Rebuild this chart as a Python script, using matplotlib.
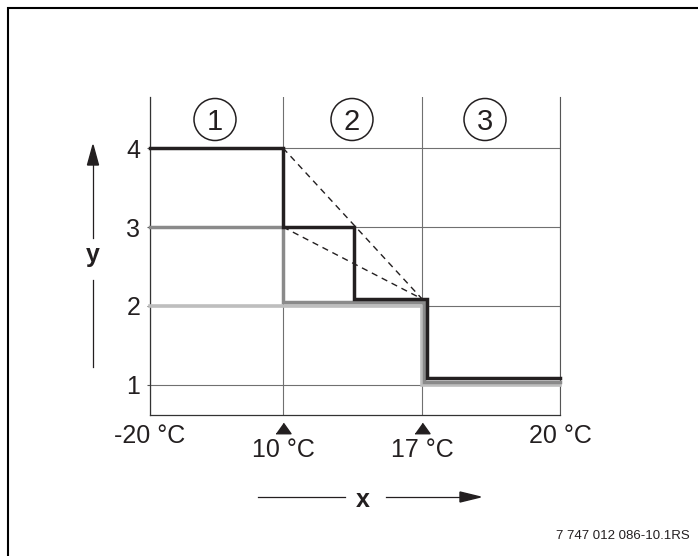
import numpy as np
import matplotlib
matplotlib.use('Agg')
import matplotlib.pyplot as plt
from matplotlib.transforms import blended_transform_factory
from matplotlib.patches import Circle, Polygon

plt.rcParams['font.family'] = ['Liberation Sans', 'DejaVu Sans']

# ---- data ----
x_ticks = [-20, 10, 17, 20]
x_tick_labels = ['-20 °C', '10 °C', '17 °C', '20 °C']
y_ticks = [1, 2, 3, 4]
zone_labels = ['1', '2', '3']

black_x = [-20, 10, 10, 13.6, 13.6, 17.11, 17.11, 20]
black_y = [4, 4, 3, 3, 2.09, 2.09, 1.085, 1.085]
dark_x = [-20, 10, 10, 17.05, 17.05, 20]
dark_y = [3, 3, 2.05, 2.05, 1.04, 1.04]
light_x = [-20, 17, 17, 20]
light_y = [2, 2, 1.0, 1.0]
dash1_x = [10, 17.0]
dash1_y = [4, 2.09]
dash2_x = [10, 17.0]
dash2_y = [3, 2.09]
footnote = '7 747 012 086-10.1RS'

# ---- layout ----
W, H = 698, 556
fig = plt.figure(figsize=(W / 100, H / 100), dpi=100)
L, R, B, T = 149.5, 560, 415, 97
ax = fig.add_axes([L / W, 1 - B / H, (R - L) / W, (B - T) / H])

seg_pos = [0, 133.5, 272.5, 410.5]
fwd = lambda t: np.interp(t, x_ticks, seg_pos)
inv = lambda p: np.interp(p, seg_pos, x_ticks)
ax.set_xscale('function', functions=(fwd, inv))
ax.set_xlim(-20, 20)
ax.set_ylim(0.62, 4.646)

ax.set_xticks(x_ticks)
ax.set_xticklabels([])
ax.tick_params(axis='x', length=0)
ax.set_yticks(y_ticks)
ax.set_yticklabels([str(v) for v in y_ticks])
ax.tick_params(axis='y', length=2.5, width=0.8, color='#555555', pad=4,
               labelsize=18, labelcolor='#231f20')
ax.grid(True, color='#707070', lw=0.8)
ax.set_axisbelow(True)
ax.spines['top'].set_visible(False)
for s in ['left', 'bottom']:
    ax.spines[s].set_color('#333333')
    ax.spines[s].set_linewidth(0.9)
ax.spines['right'].set_color('#555555')
ax.spines['right'].set_linewidth(0.8)

ax.plot(light_x, light_y, color='#bebebe', lw=2.6, solid_joinstyle='miter',
        zorder=3, clip_on=False)
ax.plot(dark_x, dark_y, color='#8a8a8a', lw=2.5, solid_joinstyle='miter',
        zorder=4, clip_on=False)
ax.plot(black_x, black_y, color='#231f20', lw=2.5, solid_joinstyle='miter',
        zorder=5, clip_on=False)
for dx, dy in [(dash1_x, dash1_y), (dash2_x, dash2_y)]:
    ax.plot(dx, dy, color='#231f20', lw=1.0, dashes=(4.5, 3.5), zorder=6)

trans = blended_transform_factory(ax.transData, ax.transAxes)
tri = [(-1, -0.7), (1, -0.7), (0, 0.7)]
ax.plot(x_ticks[1:3], [-0.041, -0.041], linestyle='none', marker=tri,
        markersize=10.8, color='#231f20', transform=trans, clip_on=False)
for xv, lab in zip(x_ticks, x_tick_labels):
    yv = -0.132 if xv in (10, 17) else -0.088
    ax.text(xv, yv, lab, transform=trans, ha='center', va='baseline',
            fontsize=18, color='#231f20', clip_on=False)

# ---- overlay in pixel coordinates ----
ov = fig.add_axes([0, 0, 1, 1])
ov.set_xlim(0, W)
ov.set_ylim(H, 0)
ov.axis('off')
ov.patch.set_alpha(0)

ov.plot([8, 8, W], [H, 8, 8], color='black', lw=1.5, clip_on=False,
        solid_joinstyle='miter')

for cx, lab in zip([215, 352, 485], zone_labels):
    ov.add_patch(Circle((cx, 119.5), 21, fill=False, lw=1.1, ec='#231f20'))
    ov.text(cx, 130.5, lab, ha='center', va='baseline', fontsize=21,
            color='#231f20')

# y arrow
ov.plot([93, 93], [238, 162], color='#231f20', lw=0.9)
ov.add_patch(Polygon([(87.5, 165), (98.5, 165), (93, 145)], closed=True,
                     color='#231f20'))
ov.plot([93, 93], [280, 367], color='#231f20', lw=0.9)
ov.text(93, 262, 'y', ha='center', va='baseline', fontsize=18,
        fontweight='bold', color='#231f20')

# x arrow
ov.plot([258, 345], [497, 497], color='#231f20', lw=0.9)
ov.plot([386, 463], [497, 497], color='#231f20', lw=0.9)
ov.add_patch(Polygon([(460, 492), (460, 502), (480.5, 497)], closed=True,
                     color='#231f20'))
ov.text(363, 507, 'x', ha='center', va='baseline', fontsize=18,
        fontweight='bold', color='#231f20')

ov.text(690, 536, footnote, ha='right', va='center', fontsize=9.5,
        color='#231f20')

fig.savefig('out.png', dpi=100)
